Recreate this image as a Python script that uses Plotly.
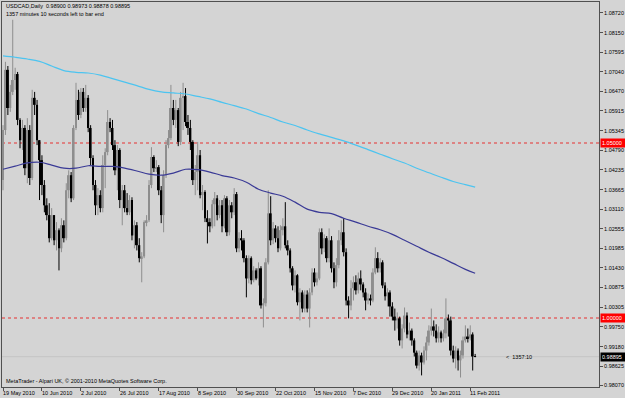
import plotly.graph_objects as go

# ---------------- data (USDCAD Daily) ----------------
symbol_title = "USDCAD,Daily  0.98900 0.98973 0.98878 0.98895"
timer_text = "1357 minutes 10 seconds left to bar end"
copyright_text = "MetaTrader - Alpari UK, \u00a9 2001-2010 MetaQuotes Software Corp."
countdown_text = "<  1357:10"

first_open = 1.0394
last_open = 0.98900

closes = [1.0537,1.0709,1.0600,1.0646,1.0680,1.0697,1.0566,1.0508,1.0543,1.0428,
1.0537,1.0400,1.0629,1.0609,1.0508,1.0451,1.0380,1.0322,1.0294,1.0228,
1.0294,1.0222,1.0251,1.0199,1.0265,1.0228,1.0365,1.0408,1.0342,1.0543,
1.0623,1.0580,1.0646,1.0600,1.0629,1.0543,1.0457,1.0380,1.0322,1.0351,
1.0314,1.0437,1.0474,1.0560,1.0543,1.0494,1.0422,1.0480,1.0337,1.0365,
1.0314,1.0302,1.0337,1.0236,1.0265,1.0208,1.0171,1.0176,1.0274,1.0279,
1.0380,1.0460,1.0428,1.0431,1.0365,1.0294,1.0408,1.0494,1.0514,1.0600,
1.0566,1.0594,1.0503,1.0629,1.0634,1.0560,1.0543,1.0503,1.0394,1.0417,
1.0465,1.0351,1.0360,1.0285,1.0274,1.0262,1.0325,1.0342,1.0294,1.0322,
1.0262,1.0342,1.0245,1.0322,1.0302,1.0354,1.0199,1.0228,1.0222,1.0171,
1.0113,1.0171,1.0108,1.0136,1.0113,1.0142,1.0036,1.0042,1.0159,1.0299,
1.0222,1.0256,1.0228,1.0199,1.0251,1.0262,1.0208,1.0193,1.0142,1.0093,
1.0122,1.0045,1.0073,1.0027,1.0067,1.0027,1.0073,1.0130,1.0102,1.0113,
1.0245,1.0199,1.0228,1.0171,1.0222,1.0142,1.0102,1.0151,1.0222,1.0245,
1.0188,1.0050,1.0036,1.0085,1.0102,1.0079,1.0113,1.0096,1.0073,1.0050,
1.0056,1.0050,1.0130,1.0171,1.0142,1.0159,1.0093,1.0062,1.0073,1.0033,
1.0004,0.9993,0.9999,0.9936,0.9970,1.0007,0.9953,0.9964,0.9936,0.9901,
0.9864,0.9893,0.9873,0.9907,0.9930,0.9964,0.9976,0.9964,0.9942,0.9959,
0.9942,0.9956,0.9999,0.9993,0.9907,0.9884,0.9907,0.9879,0.9893,0.9936,
0.9947,0.9942,0.9953,0.9890,0.98895]

highs = [1.0551,1.0732,1.0720,1.0666,1.0852,1.0715,1.0703,1.0571,1.0566,1.0551,
1.0571,1.0551,1.0652,1.0646,1.0623,1.0508,1.0465,1.0394,1.0342,1.0328,
1.0314,1.0294,1.0274,1.0256,1.0285,1.0279,1.0385,1.0422,1.0417,1.0551,
1.0672,1.0652,1.0657,1.0657,1.0666,1.0637,1.0551,1.0465,1.0394,1.0371,
1.0365,1.0465,1.0485,1.0594,1.0571,1.0566,1.0508,1.0494,1.0485,1.0380,
1.0380,1.0357,1.0351,1.0345,1.0279,1.0274,1.0228,1.0188,1.0279,1.0294,
1.0394,1.0488,1.0465,1.0451,1.0437,1.0377,1.0422,1.0508,1.0537,1.0666,
1.0623,1.0623,1.0600,1.0646,1.0672,1.0657,1.0580,1.0566,1.0508,1.0437,
1.0503,1.0480,1.0380,1.0365,1.0308,1.0285,1.0337,1.0360,1.0351,1.0337,
1.0337,1.0351,1.0348,1.0337,1.0331,1.0371,1.0360,1.0245,1.0251,1.0228,
1.0179,1.0179,1.0176,1.0148,1.0142,1.0159,1.0148,1.0056,1.0171,1.0365,
1.0348,1.0274,1.0265,1.0262,1.0265,1.0285,1.0331,1.0222,1.0199,1.0148,
1.0136,1.0125,1.0085,1.0079,1.0079,1.0079,1.0085,1.0142,1.0142,1.0130,
1.0256,1.0256,1.0239,1.0234,1.0256,1.0234,1.0159,1.0171,1.0251,1.0279,
1.0285,1.0199,1.0062,1.0108,1.0119,1.0122,1.0130,1.0136,1.0102,1.0085,
1.0070,1.0067,1.0142,1.0202,1.0188,1.0171,1.0165,1.0102,1.0085,1.0079,
1.0045,1.0027,1.0016,1.0004,0.9982,1.0030,1.0016,0.9987,0.9970,0.9942,
0.9907,0.9907,0.9901,0.9919,0.9947,0.9979,1.0027,0.9993,0.9982,0.9976,
0.9964,0.9967,1.0056,1.0010,1.0004,0.9921,0.9919,0.9913,0.9907,0.9947,
0.9979,0.9970,0.9979,0.9959,0.98973]

lows = [1.0365,1.0523,1.0580,1.0589,1.0637,1.0652,1.0551,1.0485,1.0480,1.0408,
1.0385,1.0380,1.0394,1.0580,1.0494,1.0337,1.0351,1.0302,1.0279,1.0216,
1.0222,1.0208,1.0193,1.0136,1.0188,1.0216,1.0222,1.0342,1.0331,1.0337,
1.0537,1.0566,1.0571,1.0589,1.0589,1.0531,1.0437,1.0365,1.0294,1.0294,
1.0302,1.0302,1.0371,1.0465,1.0531,1.0480,1.0408,1.0365,1.0314,1.0265,
1.0302,1.0294,1.0294,1.0222,1.0199,1.0193,1.0159,1.0102,1.0171,1.0262,
1.0274,1.0371,1.0417,1.0417,1.0351,1.0271,1.0245,1.0400,1.0485,1.0508,
1.0551,1.0543,1.0491,1.0494,1.0537,1.0548,1.0523,1.0480,1.0380,1.0351,
1.0365,1.0342,1.0308,1.0274,1.0213,1.0245,1.0256,1.0262,1.0279,1.0285,
1.0245,1.0256,1.0234,1.0236,1.0285,1.0294,1.0188,1.0188,1.0193,1.0159,
1.0059,1.0099,1.0096,1.0102,1.0108,1.0093,1.0027,0.9973,1.0033,1.0153,
1.0208,1.0211,1.0216,1.0188,1.0193,1.0236,1.0199,1.0179,1.0130,1.0079,
1.0073,1.0036,0.9993,1.0016,1.0016,1.0016,0.9973,1.0065,1.0090,1.0093,
1.0108,1.0182,1.0188,1.0159,1.0159,1.0130,1.0085,1.0090,1.0142,1.0208,
1.0176,1.0036,0.9999,1.0022,1.0050,1.0067,1.0070,1.0079,1.0059,1.0022,
1.0039,1.0036,1.0045,1.0125,1.0130,1.0130,1.0085,1.0050,1.0033,1.0004,
0.9993,0.9964,0.9970,0.9921,0.9913,0.9959,0.9942,0.9936,0.9921,0.9890,
0.9856,0.9850,0.9836,0.9867,0.9879,0.9921,0.9950,0.9947,0.9930,0.9930,
0.9930,0.9933,0.9942,0.9947,0.9893,0.9873,0.9856,0.9850,0.9830,0.9884,
0.9930,0.9930,0.9936,0.9850,0.98878]

# moving averages, read every 5 bars
ma_idx = [0,5,10,15,20,25,30,35,40,45,50,55,60,65,70,75,80,85,90,95,
          100,105,110,115,120,125,130,135,140,145,150,155,160,165,170,175,180,185,190,194]
ma_slow = [1.0749,1.0745,1.0740,1.0733,1.0720,1.0707,1.0702,1.0700,1.0694,1.0684,
           1.0674,1.0664,1.0653,1.0646,1.0643,1.0640,1.0633,1.0626,1.0616,1.0607,
           1.0597,1.0584,1.0573,1.0560,1.0550,1.0537,1.0526,1.0516,1.0506,1.0494,
           1.0481,1.0468,1.0455,1.0443,1.0428,1.0415,1.0402,1.0390,1.0381,1.0374]
ma_fast = [1.0425,1.0434,1.0443,1.0445,1.0437,1.0428,1.0428,1.0435,1.0433,1.0433,
           1.0428,1.0420,1.0411,1.0408,1.0414,1.0425,1.0424,1.0417,1.0407,1.0400,
           1.0388,1.0368,1.0357,1.0348,1.0331,1.0311,1.0302,1.0298,1.0285,1.0274,
           1.0262,1.0252,1.0239,1.0222,1.0205,1.0188,1.0173,1.0156,1.0139,1.0128]

price_ticks = [1.08720,1.08150,1.07595,1.07040,1.06470,1.05915,1.05345,1.04790,1.04235,1.03665,
               1.03110,1.02555,1.01985,1.01430,1.00875,1.00305,0.99750,0.99180,0.98625,0.98070]
date_tick_idx = [0,16,32,48,64,80,96,112,128,144,160,176,192]
date_labels = ["19 May 2010","10 Jun 2010","2 Jul 2010","26 Jul 2010","17 Aug 2010","8 Sep 2010",
               "30 Sep 2010","22 Oct 2010","15 Nov 2010","7 Dec 2010","29 Dec 2010","20 Jan 2011","11 Feb 2011"]
level_lines = [1.05000, 1.00000]
bid_price = 0.98895
countdown_idx = 206

# ---------------- styles ----------------
BG = "#d4d4d4"
FRAME = "#505050"
BULL = "#8e8e8e"
BEAR = "#000000"
FONT = "Liberation Sans"

n = len(closes)
opens = [first_open] + closes[:-1]
opens[-1] = last_open

bull_x, bull_base, bull_h = [], [], []
bear_x, bear_base, bear_h = [], [], []
bw_x, bw_y, dw_x, dw_y = [], [], [], []
for i in range(n):
    o, c = opens[i], closes[i]
    h = max(abs(c - o), 0.00012)
    if c >= o:
        bull_x.append(i); bull_base.append(min(o, c)); bull_h.append(h)
        bw_x += [i, i, None]; bw_y += [lows[i], highs[i], None]
    else:
        bear_x.append(i); bear_base.append(min(o, c)); bear_h.append(h)
        dw_x += [i, i, None]; dw_y += [lows[i], highs[i], None]

fig = go.Figure()
fig.add_trace(go.Scatter(x=bw_x, y=bw_y, mode="lines", line=dict(color=BULL, width=1), hoverinfo="skip"))
fig.add_trace(go.Scatter(x=dw_x, y=dw_y, mode="lines", line=dict(color=BEAR, width=1), hoverinfo="skip"))
fig.add_trace(go.Bar(x=bull_x, y=bull_h, base=bull_base, width=0.8,
                     marker=dict(color=BULL, line=dict(width=0))))
fig.add_trace(go.Bar(x=bear_x, y=bear_h, base=bear_base, width=0.8,
                     marker=dict(color=BEAR, line=dict(width=0))))
fig.add_trace(go.Scatter(x=ma_idx, y=ma_slow, mode="lines", line=dict(color="#4cc4f0", width=1.2, shape="spline")))
fig.add_trace(go.Scatter(x=ma_idx, y=ma_fast, mode="lines", line=dict(color="#3a3a96", width=1.2, shape="spline")))

shapes = []
for lv in level_lines:
    shapes.append(dict(type="line", xref="paper", x0=0, x1=1, yref="y", y0=lv, y1=lv,
                       line=dict(color="#e63030", width=1, dash="dot"), layer="below"))
shapes.append(dict(type="line", xref="paper", x0=0, x1=1, yref="y", y0=bid_price, y1=bid_price,
                   line=dict(color="#c4c4c4", width=1), layer="below"))

annotations = [
    dict(text=symbol_title, xref="paper", yref="paper", x=0, y=1, xanchor="left", yanchor="top",
         xshift=2, yshift=1, showarrow=False, font=dict(size=5.5, color="black", family=FONT)),
    dict(text=timer_text, xref="paper", yref="paper", x=0, y=1, xanchor="left", yanchor="top",
         xshift=2, yshift=-7, showarrow=False, font=dict(size=5.5, color="black", family=FONT)),
    dict(text=copyright_text, xref="paper", yref="paper", x=0, y=0, xanchor="left", yanchor="bottom",
         xshift=2, yshift=1, showarrow=False, font=dict(size=5.5, color="black", family=FONT)),
    dict(text=countdown_text, xref="x", yref="y", x=countdown_idx, y=bid_price, xanchor="left", yanchor="middle",
         showarrow=False, font=dict(size=5.5, color="black", family=FONT)),
]
for i, lab in zip(date_tick_idx, date_labels):
    annotations.append(dict(text=lab, xref="x", yref="paper", x=i, y=0, xanchor="left", yanchor="top",
                            xshift=-2, yshift=-1, showarrow=False,
                            font=dict(size=5.5, color="black", family=FONT)))
for lv, col in [(1.05000, "#ff0000"), (1.00000, "#ff0000"), (bid_price, "#000000")]:
    annotations.append(dict(text=f"{lv:.5f}", xref="paper", yref="y", x=1, y=lv, xanchor="left",
                            yanchor="middle", xshift=1, showarrow=False, bgcolor=col, borderpad=1,
                            width=22, align="left",
                            font=dict(size=5.5, color="white", family=FONT)))

fig.update_layout(
    width=625, height=398, margin=dict(l=1, r=23, t=2, b=11),
    paper_bgcolor=BG, plot_bgcolor=BG, showlegend=False, barmode="overlay",
    font=dict(family=FONT, size=5.5, color="black"),
    shapes=shapes, annotations=annotations,
    xaxis=dict(range=[-0.41, 244.9], showgrid=False, zeroline=False, showline=True, linecolor=FRAME,
               linewidth=1, mirror=True, tickvals=date_tick_idx, ticks="outside", ticklen=3,
               tickcolor=FRAME, showticklabels=False, fixedrange=True),
    yaxis=dict(range=[0.980286, 1.090286], side="right", showgrid=False, zeroline=False, showline=True,
               linecolor=FRAME, linewidth=1, mirror=True, tickvals=price_ticks,
               ticktext=[f"{v:.5f}" for v in price_ticks], ticks="outside", ticklen=3, tickcolor=FRAME,
               tickfont=dict(size=5.5, color="black", family=FONT)),
)

fig.write_html("out.html")
